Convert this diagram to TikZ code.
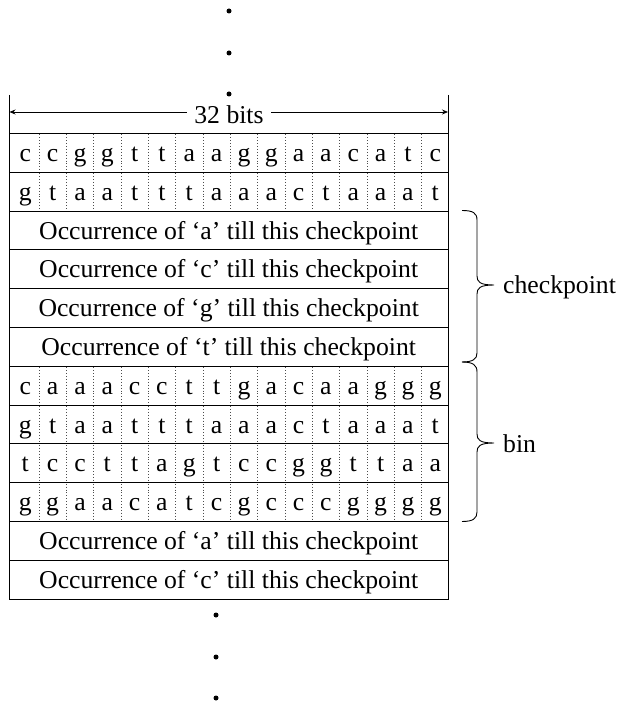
\documentclass[tikz,border=0pt]{standalone}
\usepackage{fontspec}
\setmainfont{Liberation Serif}
\usetikzlibrary{arrows.meta}

% row geometry (pt): first row top, row height, cell pitch
\def\rowtop{133.5}
\def\rowh{38.8}
\def\cellw{27.33}

% one row of 16 bases with dotted separators
\newcommand\dnarow[3]{%
  \foreach \ch [count=\j] in {#3} {
    \node[cell] (#2-\j) at ({25.3+\cellw*(\j-1)}, {\rowtop+\rowh*(#1-1)+28}) {\ch};
  }
  \foreach \k in {1,...,15}
    \draw[sep] ({39+\cellw*(\k-1)}, {\rowtop+\rowh*(#1-1)+1}) -- ++(0,\rowh-2);
}
% one counter row with centred text
\newcommand\occrow[3]{%
  \node[cell] (#2) at (228.7, {\rowtop+\rowh*(#1-1)+28}) {Occurrence of ‘#3’ till this checkpoint};
}

\begin{document}
\begin{tikzpicture}[x=1pt,y=-1pt,
  rule/.style={line width=1pt},
  sep/.style={line width=0.6pt, black!70, dash pattern=on 0.9pt off 2pt},
  cell/.style={font=\fontsize{25.7}{30}\selectfont, inner sep=0pt, anchor=base},
  lbl/.style={font=\fontsize{25.7}{30}\selectfont, inner sep=0pt, anchor=base west},
  dotmark/.style={circle, fill=black, inner sep=0pt, minimum size=5pt},
  bitsarrow/.style={line width=0.8pt, {Stealth[length=6pt,width=5pt]}-{Stealth[length=6pt,width=5pt]}}]
\useasboundingbox (0,0) rectangle (616,703);

% ellipsis above and below the table
\node[dotmark] (dot1) at (229,11) {};
\node[dotmark] (dot2) at (229,53) {};
\node[dotmark] (dot3) at (229,94) {};
\node[dotmark] (dot4) at (216,615) {};
\node[dotmark] (dot5) at (216,657) {};
\node[dotmark] (dot6) at (216,698) {};

% outer frame and row rules
\draw[rule] (9,95) -- (9,{\rowtop+12*\rowh});
\draw[rule] (448.5,95) -- (448.5,{\rowtop+12*\rowh});
\foreach \i in {0,...,12}
  \draw[rule] (9,{\rowtop+\i*\rowh}) -- (448.5,{\rowtop+\i*\rowh});

% word-width arrow
\coordinate (hl) at (9.5,112);
\coordinate (hr) at (448,112);
\draw[bitsarrow] (hl) -- (hr);
\node[cell, fill=white, inner xsep=7pt] (bits) at (229,124) {32 bits};

% contents
\dnarow{1}{ra}{c,c,g,g,t,t,a,a,g,g,a,a,c,a,t,c}
\dnarow{2}{rb}{g,t,a,a,t,t,t,a,a,a,c,t,a,a,a,t}
\occrow{3}{occa}{a}
\occrow{4}{occc}{c}
\occrow{5}{occg}{g}
\occrow{6}{occt}{t}
\dnarow{7}{rc}{c,a,a,a,c,c,t,t,g,a,c,a,a,g,g,g}
\dnarow{8}{rd}{g,t,a,a,t,t,t,a,a,a,c,t,a,a,a,t}
\dnarow{9}{re}{t,c,c,t,t,a,g,t,c,c,g,g,t,t,a,a}
\dnarow{10}{rf}{g,g,a,a,c,a,t,c,g,c,c,c,g,g,g,g}
\occrow{11}{occa2}{a}
\occrow{12}{occc2}{c}

% braces
\coordinate (cp-top) at (462,210.5);
\coordinate (cp-tip) at (494,285);
\coordinate (cp-bot) at (462,362);
\coordinate (bin-tip) at (494,443);
\coordinate (bin-bot) at (462,521.5);
\draw[line width=0.9pt] (cp-top) .. controls (473,210.5) and (477,213) .. (477,220)
  -- (477,276) .. controls (477,282) and (480,285) .. (cp-tip)
  .. controls (480,285) and (477,288) .. (477,294)
  -- (477,353) .. controls (477,359) and (473,362) .. (cp-bot);
\draw[line width=0.9pt] (cp-bot) .. controls (473,362) and (477,365) .. (477,372)
  -- (477,434) .. controls (477,440) and (480,443) .. (bin-tip)
  .. controls (480,443) and (477,446) .. (477,452)
  -- (477,512) .. controls (477,518.5) and (473,521.5) .. (bin-bot);
\node[lbl] (cp-lbl) at (503,293.3) {checkpoint};
\node[lbl] (bin-lbl) at (503,452.3) {bin};
\end{tikzpicture}
\end{document}
